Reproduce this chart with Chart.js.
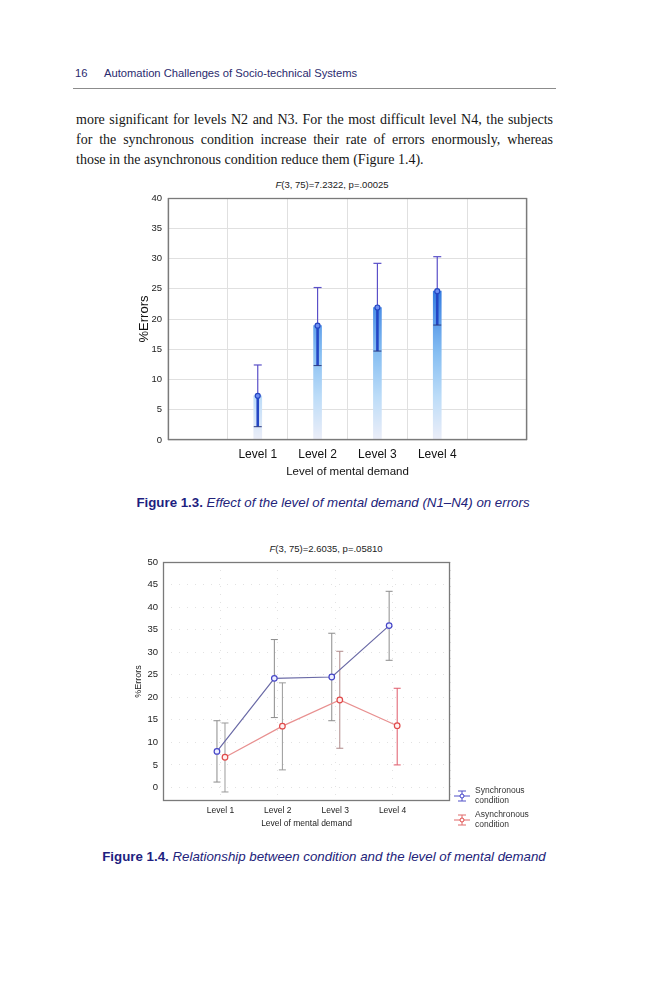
<!DOCTYPE html>
<html>
<head>
<meta charset="utf-8">
<script src="https://cdn.jsdelivr.net/npm/chart.js@4.4.1/dist/chart.umd.min.js"></script>
<style>
  body { margin: 0; background: #fff; width: 666px; height: 1000px; position: relative; overflow: hidden; }
  .abs { position: absolute; white-space: nowrap; }
  .head { font-family: "Liberation Sans", Arial, sans-serif; font-size: 11.2px; line-height: 16px; color: #2a2a6e; }
  .rule { left: 73px; top: 88px; width: 483px; height: 1px; background: #8c8c8c; }
  .txt { left: 76px; width: 477px; font-family: "Liberation Serif", "Times New Roman", serif; font-size: 14px; line-height: 20px; color: #151515; }
  .just { text-align: justify; text-align-last: justify; }
  .stat { font-family: "Liberation Sans", Arial, sans-serif; font-size: 9.5px; line-height: 12px; color: #222; text-align: center; width: 200px; }
  .cap { font-family: "Liberation Sans", Arial, sans-serif; font-size: 13.3px; line-height: 16px; color: #23237a; text-align: center; width: 500px; }
  .cap b { color: #1e1e80; }
  .leg { font-family: "Liberation Sans", Arial, sans-serif; font-size: 8.5px; line-height: 9.5px; color: #333; }
  canvas { position: absolute; }
</style>
</head>
<body>
<div class="abs head" style="left:75px; top:65px;">16</div>
<div class="abs head" style="left:104px; top:65px;">Automation Challenges of Socio-technical Systems</div>
<div class="abs rule"></div>

<div class="abs txt just" style="top:110px;">more significant for levels N2 and N3. For the most difficult level N4, the subjects</div>
<div class="abs txt just" style="top:130px;">for the synchronous condition increase their rate of errors enormously, whereas</div>
<div class="abs txt" style="top:150px;">those in the asynchronous condition reduce them (Figure 1.4).</div>

<div class="abs stat" style="left:232px; top:179px;"><i>F</i>(3, 75)=7.2322, p=.00025</div>
<div style="position:absolute; left:120px; top:175px; width:420px; height:305px;"><canvas id="chart1"></canvas></div>
<div class="abs cap" style="left:83px; top:495px;"><b>Figure 1.3.</b> <i>Effect of the level of mental demand (N1–N4) on errors</i></div>

<div class="abs stat" style="left:226px; top:543px;"><i>F</i>(3, 75)=2.6035, p=.05810</div>
<div style="position:absolute; left:120px; top:540px; width:340px; height:290px;"><canvas id="chart2"></canvas></div>

<div class="abs" style="left:453px; top:788px;">
  <svg width="18" height="12"><line x1="1" y1="6" x2="17" y2="6" stroke="#5050c8" stroke-width="1"/><line x1="9" y1="1" x2="9" y2="11" stroke="#5050c8"/><line x1="5" y1="1" x2="13" y2="1" stroke="#5050c8"/><line x1="5" y1="11" x2="13" y2="11" stroke="#5050c8"/><circle cx="9" cy="6" r="2" fill="#fff" stroke="#4040c8"/></svg>
</div>
<div class="abs leg" style="left:475px; top:786px;">Synchronous<br>condition</div>
<div class="abs" style="left:453px; top:812px;">
  <svg width="18" height="12"><line x1="1" y1="6" x2="17" y2="6" stroke="#e06a6a" stroke-width="1"/><line x1="9" y1="1" x2="9" y2="11" stroke="#e06a6a"/><line x1="5" y1="1" x2="13" y2="1" stroke="#e06a6a"/><line x1="5" y1="11" x2="13" y2="11" stroke="#e06a6a"/><circle cx="9" cy="6" r="2" fill="#fff" stroke="#e04848"/></svg>
</div>
<div class="abs leg" style="left:475px; top:810px;">Asynchronous<br>condition</div>

<div class="abs cap" style="left:74px; top:849px;"><b>Figure 1.4.</b> <i>Relationship between condition and the level of mental demand</i></div>

<script>
// shared x categories (positions 0..5 on a linear axis, levels at 1..4)
const levelLabels = ['', 'Level 1', 'Level 2', 'Level 3', 'Level 4', ''];
const levels = [1, 2, 3, 4];

// Figure 1.3 - mean %errors with error bars
const meanErrors = [7.3, 18.9, 21.9, 24.6];
const upperErrors = [12.4, 25.2, 29.2, 30.3];
const lowerErrors = [2.2, 12.3, 14.7, 19.0];
const yTicks1 = [0, 5, 10, 15, 20, 25, 30, 35, 40];

// Figure 1.4 - synchronous vs asynchronous condition
const syncMean = [8.0, 24.2, 24.5, 35.9];
const syncUpper = [14.8, 32.8, 34.2, 43.5];
const syncLower = [1.2, 15.5, 14.8, 28.2];
const asyncMean = [6.7, 13.6, 19.4, 13.7];
const asyncUpper = [14.3, 23.2, 30.2, 22.0];
const asyncLower = [-1.0, 3.9, 8.7, 5.0];
const yTicks2 = [0, 5, 10, 15, 20, 25, 30, 35, 40, 45, 50];

const SANS = '"Liberation Sans", Arial, sans-serif';

const boxPlugin = {
  id: 'box',
  afterDraw(chart) {
    const { ctx, chartArea } = chart;
    ctx.save();
    ctx.strokeStyle = '#7a7a7a';
    ctx.lineWidth = 1.3;
    ctx.strokeRect(chartArea.left + 0.5, chartArea.top + 0.5, chartArea.width - 1, chartArea.height - 1);
    ctx.restore();
  }
};

function line(ctx, x1, y1, x2, y2) {
  ctx.beginPath();
  ctx.moveTo(x1, y1);
  ctx.lineTo(x2, y2);
  ctx.stroke();
}

// error bars for figure 1.3, drawn through the chart scales
const errorBars1 = {
  id: 'errorBars1',
  afterDatasetsDraw(chart) {
    const { ctx, scales } = chart;
    ctx.save();
    levels.forEach((lv, i) => {
      const x = scales.x.getPixelForValue(lv);
      const yMean = scales.y.getPixelForValue(meanErrors[i]);
      const yHi = scales.y.getPixelForValue(upperErrors[i]);
      const yLo = scales.y.getPixelForValue(lowerErrors[i]);
      ctx.strokeStyle = '#5a4fc8';
      ctx.lineWidth = 1.2;
      line(ctx, x, yMean, x, yHi);
      line(ctx, x - 4, yHi, x + 4, yHi);
      ctx.strokeStyle = '#2446c4';
      ctx.lineWidth = 2.6;
      line(ctx, x, yMean, x, yLo);
      ctx.strokeStyle = '#2c3a80';
      ctx.lineWidth = 1;
      line(ctx, x - 4, yLo, x + 4, yLo);
      ctx.beginPath();
      ctx.arc(x, yMean, 2.5, 0, Math.PI * 2);
      ctx.fillStyle = '#6f8ff0';
      ctx.fill();
      ctx.strokeStyle = '#2446c4';
      ctx.lineWidth = 1.2;
      ctx.stroke();
    });
    ctx.restore();
  }
};

const syncErrColors = ['#8c8c8c', '#8c8c8c', '#8c8c8c', '#8c8c8c'];
const asyncErrColors = ['#9a9a9a', '#9a9a9a', '#b08a8a', '#e05a6a'];

const errorBars2 = {
  id: 'errorBars2',
  beforeDatasetsDraw(chart) {
    const { ctx, scales } = chart;
    const groups = [
      [syncUpper, syncLower, syncErrColors, -0.06],
      [asyncUpper, asyncLower, asyncErrColors, 0.08]
    ];
    ctx.save();
    ctx.lineWidth = 1;
    groups.forEach(([hi, lo, colors, shift]) => {
      levels.forEach((lv, i) => {
        const x = scales.x.getPixelForValue(lv + shift);
        const yHi = scales.y.getPixelForValue(hi[i]);
        const yLo = scales.y.getPixelForValue(lo[i]);
        ctx.strokeStyle = colors[i];
        line(ctx, x, yHi, x, yLo);
        line(ctx, x - 3.5, yHi, x + 3.5, yHi);
        line(ctx, x - 3.5, yLo, x + 3.5, yLo);
      });
    });
    ctx.restore();
  }
};

function barGradient(context) {
  const { chart } = context;
  const { ctx, scales } = chart;
  if (!chart.chartArea) return '#9cc8f4';
  const y0 = scales.y.getPixelForValue(0);
  const y1 = scales.y.getPixelForValue(24);
  const g = ctx.createLinearGradient(0, y0, 0, y1);
  g.addColorStop(0, '#eceef8');
  g.addColorStop(0.3, '#bcdcf8');
  g.addColorStop(0.6, '#86bef2');
  g.addColorStop(1, '#3a80e2');
  return g;
}

new Chart(document.getElementById('chart1'), {
  type: 'bar',
  data: {
    datasets: [{
      data: levels.map((lv, i) => ({ x: lv, y: meanErrors[i] })),
      backgroundColor: barGradient,
      borderWidth: 0,
      barThickness: 8
    }]
  },
  options: {
    responsive: true,
    maintainAspectRatio: false,
    animation: false,
    layout: { padding: { top: 23, right: 13, bottom: 0, left: 0 } },
    plugins: { legend: { display: false }, tooltip: { enabled: false } },
    scales: {
      x: {
        type: 'linear',
        min: 0,
        max: 5,
        ticks: {
          stepSize: 1,
          callback: v => levelLabels[v] ?? '',
          font: { family: SANS, size: 12 },
          color: '#111',
          padding: 7,
          maxRotation: 0
        },
        grid: { color: '#e0e0e0', drawTicks: false },
        border: { display: false },
        title: {
          display: true,
          text: 'Level of mental demand',
          font: { family: SANS, size: 11.5 },
          color: '#111',
          padding: { top: 0, bottom: 1 }
        },
        afterFit: s => { s.height = 40; }
      },
      y: {
        min: 0,
        max: 40,
        afterBuildTicks: s => { s.ticks = yTicks1.map(v => ({ value: v })); },
        ticks: { font: { family: SANS, size: 9.5 }, color: '#222', padding: 6 },
        grid: { color: '#e0e0e0', drawTicks: false },
        border: { display: false },
        title: {
          display: true,
          text: '%Errors',
          font: { family: SANS, size: 13 },
          color: '#111',
          padding: { top: 17, bottom: 0 }
        },
        afterFit: s => { s.width = 48; }
      }
    }
  },
  plugins: [boxPlugin, errorBars1]
});

new Chart(document.getElementById('chart2'), {
  type: 'line',
  data: {
    datasets: [{
      label: 'Synchronous condition',
      data: levels.map((lv, i) => ({ x: lv - 0.06, y: syncMean[i] })),
      borderColor: '#6a6aa6',
      borderWidth: 1.2,
      pointRadius: 2.8,
      pointBackgroundColor: '#eef0ff',
      pointBorderColor: '#4646c8',
      pointBorderWidth: 1.2,
      tension: 0
    }, {
      label: 'Asynchronous condition',
      data: levels.map((lv, i) => ({ x: lv + 0.08, y: asyncMean[i] })),
      borderColor: '#e89090',
      borderWidth: 1.2,
      pointRadius: 2.8,
      pointBackgroundColor: '#fff0f0',
      pointBorderColor: '#e04a4a',
      pointBorderWidth: 1.2,
      tension: 0
    }]
  },
  options: {
    responsive: true,
    maintainAspectRatio: false,
    animation: false,
    layout: { padding: { top: 22, right: 10, bottom: 0, left: 0 } },
    plugins: { legend: { display: false }, tooltip: { enabled: false } },
    scales: {
      x: {
        type: 'linear',
        min: 0,
        max: 5,
        ticks: {
          stepSize: 1,
          callback: v => levelLabels[v] ?? '',
          font: { family: SANS, size: 8.5 },
          color: '#222',
          padding: 4.5,
          maxRotation: 0
        },
        grid: { color: '#e2e2e2', drawTicks: false },
        border: { display: false, dash: [1, 7] },
        title: {
          display: true,
          text: 'Level of mental demand',
          font: { family: SANS, size: 8.5 },
          color: '#222',
          padding: { top: 0, bottom: 1.5 }
        },
        afterFit: s => { s.height = 29; }
      },
      y: {
        min: -3,
        max: 50,
        afterBuildTicks: s => { s.ticks = yTicks2.map(v => ({ value: v })); },
        ticks: { font: { family: SANS, size: 9.5 }, color: '#222', padding: 5 },
        grid: { color: '#e2e2e2', drawTicks: false },
        border: { display: false, dash: [1, 7] },
        title: {
          display: true,
          text: '%Errors',
          font: { family: SANS, size: 9 },
          color: '#222',
          padding: { top: 13.5, bottom: 0 }
        },
        afterFit: s => { s.width = 43; }
      }
    }
  },
  plugins: [boxPlugin, errorBars2]
});
</script>
</body>
</html>
